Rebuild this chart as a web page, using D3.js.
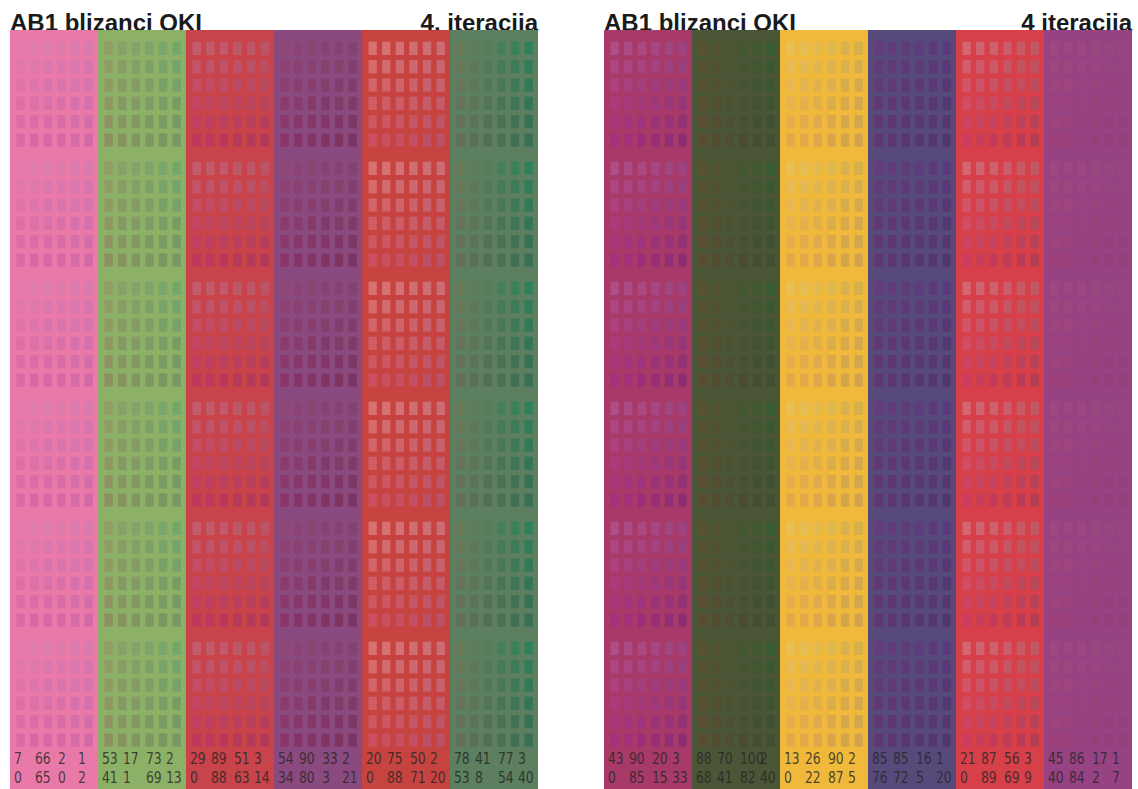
<!DOCTYPE html>
<html>
<head>
<meta charset="utf-8">
<script src="https://cdn.jsdelivr.net/npm/d3@7"></script>
<style>
  html, body { margin: 0; padding: 0; background: #fff; }
  svg { display: block; }
</style>
</head>
<body>
<svg id="chart" width="1138" height="789"></svg>
<script>
// ---------- data ----------
const titlesLeft  = ["AB1 blizanci OKI", "AB1 blizanci OKI"];
const titlesRight = ["4. iteracija", "4 iteracija"];

// background colour of each column (panel 1, panel 2)
const background1 = ["#e979a8", "#8cb066", "#c9434a", "#8b4a7f", "#c64340", "#5b7f5f"];
const background2 = ["#a73a68", "#4a5636", "#f0b93c", "#574a7b", "#d74048", "#974282"];

// swatch corner colours within each block: [top-left, top-right, bottom-left, bottom-right]
const swatch1 = [
  ["#e07dab", "#d67cb0", "#dc68a6", "#d36aa8"],
  ["#909e68", "#72a86c", "#8a925f", "#769862"],
  ["#c45c70", "#bc5468", "#c0385e", "#b03a56"],
  ["#8e4674", "#84426e", "#8a3468", "#7c3460"],
  ["#d87272", "#cc6c74", "#cc5060", "#bc5064"],
  ["#6a7a58", "#2e8258", "#646e58", "#3a6e56"]
];
const swatch2 = [
  ["#b04c86", "#9c4482", "#a8307a", "#8e2e72"],
  ["#5a5230", "#365c30", "#5a4c32", "#404e32"],
  ["#e8c058", "#d4b04a", "#e8a848", "#d2a44c"],
  ["#643c7a", "#5a3a7a", "#60366e", "#52366e"],
  ["#d46672", "#c05866", "#cc3c5c", "#b43c54"],
  ["#a0487e", "#984682", "#a0407a", "#923f7a"]
];

// CMYK labels (twin values) under each column
const cmykTop1 = [[7,66,2,1],[53,17,73,2],[29,89,51,3],[54,90,33,2],[20,75,50,2],[78,41,77,3]];
const cmykBot1 = [[0,65,0,2],[41,1,69,13],[0,88,63,14],[34,80,3,21],[0,88,71,20],[53,8,54,40]];
const cmykTop2 = [[43,90,20,3],[88,70,100,2],[13,26,90,2],[85,85,16,1],[21,87,56,3],[45,86,17,1]];
const cmykBot2 = [[0,85,15,33],[68,41,82,40],[0,22,87,5],[76,72,5,20],[0,89,69,9],[40,84,2,7]];

const blocks = [0,1,2,3,4,5];
const rows = [0,1,2,3,4,5];
const cols = [0,1,2,3,4,5];

// ---------- layout ----------
const svg = d3.select("#chart");
const panelX = [10, 604];
const panelW = 528;
const panelTop = 30;
const H = 789;

const panels = [
  {bg: background1, sw: swatch1, top: cmykTop1, bot: cmykBot1},
  {bg: background2, sw: swatch2, top: cmykTop2, bot: cmykBot2}
];

const blockY = d3.scaleLinear().domain([0, 5]).range([41.7, 641.7]);
const rowY = d3.scaleLinear().domain([0, 5]).range([0, 91.7]);
const sqX = d3.scaleLinear().domain([0, 5]).range([6.5, 74.5]);
const cmykX = d3.scaleOrdinal().domain([0,1,2,3]).range([4, 25, 48, 68]);

panels.forEach((P, pi) => {
  const x0 = panelX[pi];
  const g = svg.append("g");

  // titles (drawn first, panel overlaps their descenders)
  g.append("text")
    .attr("x", x0).attr("y", 31)
    .attr("font-family", "'Liberation Sans', Arial, sans-serif")
    .attr("font-weight", "bold").attr("font-size", 24)
    .attr("fill", "#1a1a1a")
    .text(titlesLeft[pi]);
  g.append("text")
    .attr("x", x0 + panelW).attr("y", 31)
    .attr("text-anchor", "end")
    .attr("font-family", "'Liberation Sans', Arial, sans-serif")
    .attr("font-weight", "bold").attr("font-size", 24)
    .attr("fill", "#1a1a1a")
    .text(titlesRight[pi]);

  const xBand = d3.scaleBand().domain(cols).range([x0, x0 + panelW]).padding(0);

  const colG = g.selectAll("g.col").data(cols).join("g")
    .attr("class", "col")
    .attr("transform", d => `translate(${xBand(d)},0)`);

  colG.append("rect")
    .attr("x", 0).attr("y", panelTop)
    .attr("width", xBand.bandwidth()).attr("height", H - panelTop)
    .attr("fill", d => P.bg[d]);

  colG.each(function(ci) {
    const [tl, tr, bl, br] = P.sw[ci];
    const topScale = d3.scaleLinear().domain([0, 5]).range([tl, tr]).interpolate(d3.interpolateRgb);
    const botScale = d3.scaleLinear().domain([0, 5]).range([bl, br]).interpolate(d3.interpolateRgb);
    const cells = [];
    blocks.forEach(b => rows.forEach(r => cols.forEach(c => cells.push({b, r, c}))));
    d3.select(this).selectAll("rect.sq").data(cells).join("rect")
      .attr("class", "sq")
      .attr("x", d => sqX(d.c))
      .attr("y", d => blockY(d.b) + rowY(d.r))
      .attr("width", 8.3).attr("height", 13.3)
      .attr("fill", d => d3.interpolateRgb(topScale(d.c), botScale(d.c))(d.r / 5));

    const lab = d3.select(this);
    [[P.top[ci], 763.5], [P.bot[ci], 782.5]].forEach(([vals, y]) => {
      lab.selectAll(null).data(vals).join("text")
        .attr("transform", (v, k) => `translate(${cmykX(k)},${y}) scale(0.86,1)`)
        .attr("font-family", "'Liberation Sans Narrow', 'Arial Narrow', 'DejaVu Sans Condensed', sans-serif")
        .attr("font-size", 16)
        .attr("fill", "#262626").attr("fill-opacity", 0.82)
        .text(v => v);
    });
  });
});
</script>
</body>
</html>
